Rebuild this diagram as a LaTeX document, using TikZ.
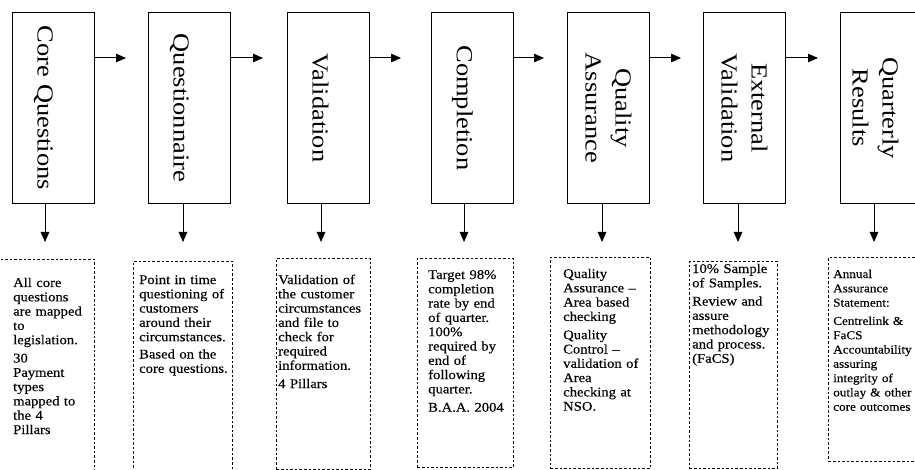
\documentclass[tikz,border=0pt]{standalone}
\usepackage{fontspec}
\setmainfont{Liberation Serif}
\newfontfamily\headfont[FakeStretch=1.15]{Liberation Serif}
\newfontfamily\notefont[FakeStretch=1.1,FakeBold=0.3]{Liberation Serif}
\usetikzlibrary{arrows.meta}

\begin{document}
\begin{tikzpicture}[x=1pt,y=-1pt,
  stage/.style={draw, line width=0.8pt, minimum width=82pt, minimum height=191pt,
    inner sep=0pt, anchor=north west},
  stagelabel/.style={rotate=-90, align=center, inner sep=0pt,
    font=\headfont\fontsize{23}{30}\selectfont},
  note/.style={draw, line width=0.9pt, dash pattern=on 2.6pt off 2pt,
    inner sep=0pt, anchor=north west},
  notetext/.style={anchor=base west, text width=130pt, align=left, inner sep=0pt,
    font=\notefont\fontsize{13.3}{14.3}\selectfont},
  flow/.style={line width=1pt, -{Triangle[length=10pt,width=8.5pt]}}
]
\useasboundingbox (0,0) rectangle (915,470);
\clip (0,0) rectangle (915,470);
\fill[white] (0,0) rectangle (915,470);

% ---- process stages ----
\node[stage] (cq) at (12,12)  {};
\node[stage] (qn) at (148,12) {};
\node[stage] (va) at (287,12) {};
\node[stage] (co) at (431,12) {};
\node[stage] (qa) at (567,12) {};
\node[stage] (ev) at (703,12) {};
\node[stage] (qr) at (840,12) {};

% captions: one-line captions sit a little left of centre
\node[stagelabel] (cql) at ([xshift=-10pt]cq.center) {Core Questions};
\node[stagelabel] (qnl) at ([xshift=-10pt]qn.center) {Questionnaire};
\node[stagelabel] (val) at ([xshift=-8pt]va.center)  {Validation};
\node[stagelabel] (col) at ([xshift=-10pt]co.center) {Completion};
\node[stagelabel] (qal) at (qa.center) {Quality\\Assurance};
\node[stagelabel] (evl) at (ev.center) {External\\Validation};
\node[stagelabel] (qrl) at ([xshift=-6pt]qr.center) {Quarterly\\Results};

% ---- sideways arrows ----
\coordinate (cqr) at (126,58);
\coordinate (qnr) at (263,58);
\coordinate (var) at (401,58);
\coordinate (cor) at (544,58);
\coordinate (qar) at (681,58);
\coordinate (evr) at (818,58);
\draw[flow] (cq.east |- cqr) -- (cqr);
\draw[flow] (qn.east |- qnr) -- (qnr);
\draw[flow] (va.east |- var) -- (var);
\draw[flow] (co.east |- cor) -- (cor);
\draw[flow] (qa.east |- qar) -- (qar);
\draw[flow] (ev.east |- evr) -- (evr);

% ---- downward arrows ----
\coordinate (cqd) at (45,242);
\coordinate (qnd) at (183,242);
\coordinate (vad) at (321,242);
\coordinate (cod) at (464,242);
\coordinate (qad) at (602,242);
\coordinate (evd) at (738,242);
\coordinate (qrd) at (874,242);
\draw[flow] (cq.south -| cqd) -- (cqd);
\draw[flow] (qn.south -| qnd) -- (qnd);
\draw[flow] (va.south -| vad) -- (vad);
\draw[flow] (co.south -| cod) -- (cod);
\draw[flow] (qa.south -| qad) -- (qad);
\draw[flow] (ev.south -| evd) -- (evd);
\draw[flow] (qr.south -| qrd) -- (qrd);

% ---- detail boxes ----
\node[note, minimum width=97pt, minimum height=212pt] (cqb) at (-3,259) {};
\node[note, minimum width=99pt, minimum height=210pt] (qnb) at (133,261) {};
\node[note, minimum width=94pt, minimum height=211pt] (vab) at (276,258) {};
\node[note, minimum width=96pt, minimum height=209pt] (cob) at (417,258) {};
\node[note, minimum width=100pt, minimum height=211pt] (qab) at (550,257) {};
\node[note, minimum width=88pt, minimum height=207pt] (evb) at (689,261) {};
\node[note, minimum width=100pt, minimum height=204pt] (qrb) at (828,257) {};

\node[notetext] (cqt) at (13,287) {All core\\questions\\are mapped\\to\\legislation.\\[4pt]
  30\\Payment\\types\\mapped to\\the 4\\Pillars};
\node[notetext] (qnt) at (139,284) {Point in time\\questioning of\\customers\\around their\\circumstances.\\[3pt]
  Based on the\\core questions.};
\node[notetext] (vat) at (278,284) {Validation of\\the customer\\circumstances\\and file to\\check for\\required\\information.\\[4pt]
  4 Pillars};
\node[notetext] (cot) at (428,279) {Target 98\%\\completion\\rate by end\\of quarter.\\100\%\\required by\\end of\\following\\quarter.\\[4pt]
  B.A.A. 2004};
\node[notetext] (qat) at (563,278) {Quality\\Assurance –\\Area based\\checking\\[4pt]
  Quality\\Control –\\validation of\\Area\\checking at\\NSO.};
\node[notetext] (evt) at (692,273) {10\% Sample\\of Samples.\\[4pt]
  Review and\\assure\\methodology\\and process.\\(FaCS)};
\node[notetext, font=\notefont\fontsize{12}{14.3}\selectfont] (qrt) at (833,278) {Annual\\Assurance\\Statement:\\[4pt]
  Centrelink \&\\FaCS\\Accountability\\assuring\\integrity of\\outlay \& other\\core outcomes};
\end{tikzpicture}
\end{document}
